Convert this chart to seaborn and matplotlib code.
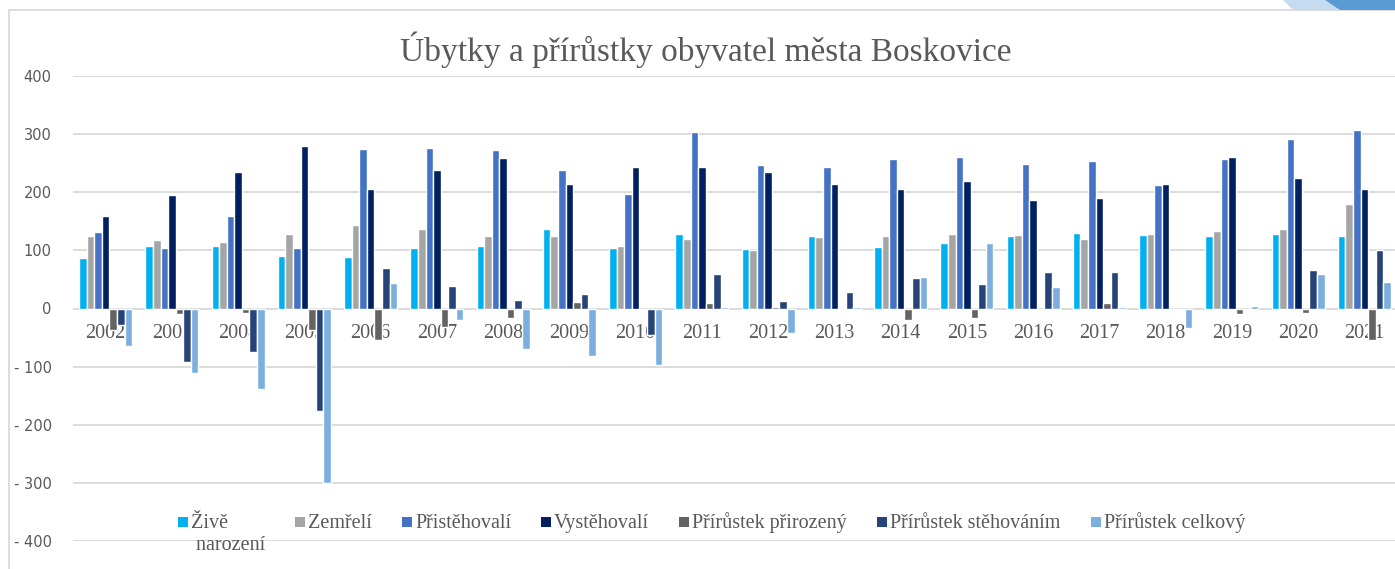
import numpy as np
import pandas as pd
import matplotlib
matplotlib.use("Agg")
import matplotlib.pyplot as plt
from matplotlib.patches import Polygon, Rectangle
import seaborn as sns

# ---------------- data ----------------
years = [str(y) for y in range(2002, 2022)]
series_names = ["Živě\n narození", "Zemřelí", "Přistěhovalí", "Vystěhovalí",
                "Přírůstek přirozený", "Přírůstek stěhováním", "Přírůstek celkový"]

zive_narozeni = [87, 108, 108, 91, 88, 104, 108, 136, 104, 129, 102, 124, 106, 112, 125, 130, 127, 124, 129, 125]
zemreli       = [124, 117, 115, 128, 143, 136, 124, 124, 108, 119, 100, 123, 125, 128, 126, 120, 129, 134, 137, 180]
pristehovali  = [131, 104, 159, 104, 274, 276, 273, 239, 197, 303, 247, 243, 257, 261, 249, 253, 213, 258, 292, 307]
vystehovali   = [160, 196, 234, 280, 205, 238, 259, 214, 243, 243, 235, 214, 205, 219, 186, 190, 215, 261, 224, 206]
prir_prirozeny = [-37, -9, -7, -37, -55, -32, -16, 12, -3, 10, 2, 1, -20, -16, -1, 10, -2, -10, -8, -55]
prir_stehovanim = [-29, -92, -75, -176, 69, 38, 14, 25, -46, 60, 13, 28, 52, 42, 63, 63, -1, -3, 67, 100]
prir_celkovy   = [-65, -111, -138, -301, 44, -20, -70, -81, -97, 3, -42, 2, 54, 113, 37, 2, -33, 5, 59, 45]

y_ticks = [-400, -300, -200, -100, 0, 100, 200, 300, 400]
y_tick_labels = ["- 400", "- 300", "- 200", "- 100", "0", "100", "200", "300", "400"]

title = "Úbytky a přírůstky obyvatel města Boskovice"

colors = ["#00B0F0", "#A5A5A5", "#4472C4", "#002060", "#636363", "#264478", "#7CAFDD"]

all_series = [zive_narozeni, zemreli, pristehovali, vystehovali,
              prir_prirozeny, prir_stehovanim, prir_celkovy]
df = pd.DataFrame({
    "rok": np.tile(years, len(series_names)),
    "ukazatel": np.repeat(series_names, len(years)),
    "hodnota": np.concatenate(all_series),
})

# ---------------- plot ----------------
sns.set_style("white")
plt.rcParams["font.family"] = ["DejaVu Sans"]

W, H = 1395, 569
fig = plt.figure(figsize=(W / 100, H / 100), dpi=100)
ax = fig.add_axes([72.5 / W, 1 - 541 / H, 1325 / W, (541 - 76) / H])

sns.barplot(data=df, x="rok", y="hodnota", hue="ukazatel", hue_order=series_names,
            palette=colors, width=0.8, edgecolor="white", linewidth=1.0,
            saturation=1, ax=ax, legend=False)

ax.set_xlim(-0.5, len(years) - 0.5)
ax.set_ylim(-400, 400)
ax.set_yticks(y_ticks)
ax.set_yticklabels(y_tick_labels)
ax.set_xlabel("")
ax.set_ylabel("")
ax.set_axisbelow(True)
ax.yaxis.grid(True, color="#D9D9D9", linewidth=1.3)
ax.xaxis.grid(False)
for s in ax.spines.values():
    s.set_visible(False)
ax.spines["bottom"].set_position(("data", 0))
ax.tick_params(axis="y", length=0, pad=15, labelsize=10.5, labelcolor="#595959")
ax.tick_params(axis="x", length=0, pad=11, labelsize=14.5, labelcolor="#595959")
for lab in ax.get_xticklabels():
    lab.set_fontfamily("Liberation Serif")

# title
fig.text(706 / W, 1 - 50 / H, title, ha="center", va="center",
         fontsize=24, color="#595959", family="Liberation Serif")

# legend (Excel-style row, laid out from measured text widths)
renderer = fig.canvas.get_renderer()
x_px = 178
baseline_px = 528
line_step_px = 22
for name, color in zip(series_names, colors):
    fig.patches.append(Rectangle((x_px / W, 1 - 527 / H), 10 / W, 10 / H,
                                 transform=fig.transFigure, facecolor=color,
                                 edgecolor="none"))
    right = x_px
    for i, line in enumerate(name.split("\n")):
        t = fig.text((x_px + 13) / W, 1 - (baseline_px + i * line_step_px) / H, line,
                     ha="left", va="baseline", fontsize=14.5, color="#595959",
                     family="Liberation Serif")
        right = max(right, t.get_window_extent(renderer).x1)
    x_px = right + 30

# chart frame
fig.patches.append(Rectangle((9 / W, -0.1), 1.2, 1 - 10 / H + 0.1, transform=fig.transFigure,
                             fill=False, edgecolor="#D9D9D9", linewidth=1.3, zorder=0))
# slide decoration (top right)
fig.patches.append(Polygon([(1283 / W, 1), (1330 / W, 1), (1345 / W, 1 - 10 / H), (1293 / W, 1 - 10 / H)],
                           closed=True, transform=fig.transFigure, facecolor="#C5DCF0",
                           edgecolor="none", zorder=0))
fig.patches.append(Polygon([(1325 / W, 1), (1.0, 1), (1.0, 1 - 10 / H), (1340 / W, 1 - 10 / H)],
                           closed=True, transform=fig.transFigure, facecolor="#5B9BD5",
                           edgecolor="none", zorder=0))

fig.savefig("out.png", dpi=100)
